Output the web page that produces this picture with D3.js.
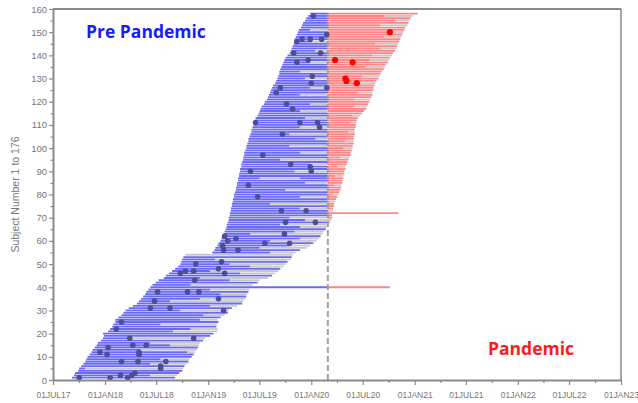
<!DOCTYPE html>
<html><head><meta charset="utf-8">
<script src="https://cdn.jsdelivr.net/npm/d3@7"></script>
<style>body{margin:0;background:#fff}</style>
</head><body><svg id="c" width="638" height="403"></svg>
<script>
// Subject n = index+1 ; dates as decimal years
const startYr=[
2017.68,2017.70,2017.71,2017.74,2017.75,2017.77,2017.79,2017.81,2017.82,2017.83,
2017.85,2017.87,2017.88,2017.90,2017.92,2017.93,2017.96,2017.98,2017.99,2017.98,
2018.03,2018.05,2018.07,2018.08,2018.10,2018.10,2018.13,2018.16,2018.18,2018.20,
2018.23,2018.27,2018.31,2018.33,2018.35,2018.37,2018.39,2018.40,2018.42,2018.44,
2018.46,2018.49,2018.52,2018.57,2018.59,2018.62,2018.65,2018.68,2018.71,2018.73,
2018.74,2018.75,2018.76,2018.78,2019.04,2019.06,2019.07,2019.09,2019.10,2019.12,
2019.13,2019.14,2019.15,2019.16,2019.17,2019.18,2019.18,2019.19,2019.20,2019.20,
2019.21,2019.21,2019.22,2019.22,2019.23,2019.23,2019.24,2019.24,2019.25,2019.25,
2019.26,2019.27,2019.27,2019.28,2019.28,2019.29,2019.29,2019.30,2019.30,2019.31,
2019.31,2019.32,2019.32,2019.33,2019.34,2019.34,2019.35,2019.35,2019.36,2019.37,
2019.37,2019.38,2019.39,2019.39,2019.40,2019.41,2019.42,2019.42,2019.43,2019.44,
2019.45,2019.46,2019.46,2019.48,2019.49,2019.50,2019.51,2019.52,2019.54,2019.55,
2019.57,2019.58,2019.59,2019.60,2019.61,2019.62,2019.63,2019.65,2019.66,2019.67,
2019.68,2019.69,2019.69,2019.70,2019.71,2019.72,2019.73,2019.74,2019.75,2019.77,
2019.79,2019.80,2019.81,2019.82,2019.83,2019.84,2019.84,2019.85,2019.86,2019.87,
2019.88,2019.90,2019.91,2019.92,2019.94,2019.95,2019.97,2019.99];
const endYr=[
2018.68,2018.70,2018.72,2018.75,2018.76,2018.77,2018.79,2018.81,2018.82,2018.84,
2018.86,2018.87,2018.89,2018.90,2018.91,2018.92,2018.95,2018.97,2019.02,2019.05,
2019.09,2019.09,2019.08,2019.09,2019.10,2019.09,2019.12,2019.16,2019.19,2019.20,
2019.23,2019.28,2019.33,2019.34,2019.36,2019.37,2019.38,2019.39,2019.40,2020.76,
2019.43,2019.48,2019.50,2019.58,2019.62,2019.65,2019.68,2019.70,2019.73,2019.75,
2019.77,2019.80,2019.81,2019.82,2019.85,2019.89,2019.96,2019.99,2020.02,2020.05,
2020.07,2020.09,2020.11,2020.12,2020.14,2020.15,2020.17,2020.18,2020.19,2020.20,
2020.20,2020.84,2020.21,2020.21,2020.22,2020.22,2020.23,2020.24,2020.25,2020.26,
2020.27,2020.28,2020.29,2020.29,2020.30,2020.30,2020.31,2020.31,2020.32,2020.32,
2020.33,2020.33,2020.34,2020.35,2020.36,2020.37,2020.38,2020.38,2020.39,2020.40,
2020.40,2020.41,2020.41,2020.41,2020.41,2020.42,2020.42,2020.42,2020.43,2020.43,
2020.44,2020.44,2020.45,2020.47,2020.49,2020.51,2020.53,2020.54,2020.55,2020.56,
2020.57,2020.58,2020.59,2020.59,2020.60,2020.60,2020.61,2020.62,2020.63,2020.65,
2020.66,2020.67,2020.68,2020.70,2020.71,2020.72,2020.74,2020.75,2020.76,2020.78,
2020.79,2020.81,2020.83,2020.83,2020.84,2020.85,2020.86,2020.87,2020.88,2020.89,
2020.90,2020.91,2020.93,2020.94,2020.95,2020.96,2020.98,2021.03];
// grey (off-treatment) interval; 0 = none / to end of line
const grayFrom=[
0,2018.44,0,0,2017.81,0,2018.44,0,2018.54,0,
0,2018.80,2018.34,0,2018.63,2018.44,0,2018.25,0,0,
2018.66,2018.83,0,2018.54,0,2018.92,0,2018.95,0,2018.73,
0,2019.02,0,2018.63,2018.92,0,2019.12,0,2019.02,0,
2018.83,0,2019.21,2018.92,0,2019.31,2019.02,0,2019.41,2019.21,
0,2019.07,0,2018.78,2019.60,0,2019.50,2019.79,0,2019.60,
2019.89,0,2019.41,2019.84,0,2019.89,2019.70,0,2019.94,2019.79,
0,0,2020.17,2019.89,0,2019.60,2020.18,0,2019.89,2020.20,
0,2019.75,0,2020.22,2019.94,0,2019.50,2020.23,0,2019.84,
0,2020.26,2019.99,0,2019.70,2020.28,0,2019.89,0,2020.31,
2019.79,0,2020.33,2020.04,0,2019.79,2020.36,0,2019.89,0,
2020.38,0,2019.94,2020.40,0,2019.89,0,2020.42,2019.99,0,
2020.42,0,2019.89,2020.45,0,2019.99,0,2020.47,0,2019.94,
2020.49,0,2019.89,0,2020.52,0,2019.99,2020.57,0,2020.59,
0,2020.04,2020.67,0,2020.62,2020.01,0,2020.71,0,2020.76,
2019.99,0,2020.67,0,2020.81,0,2020.71,0];
const grayTo=[
0,0,0,0,0,0,0,0,0,0, 0,0,0,0,0,0,0,0,0,0,
0,0,0,0,0,0,0,0,0,0, 0,0,0,0,0,0,0,0,0,0,
0,0,0,0,0,0,0,0,0,0, 0,0,0,0,0,0,0,0,0,0,
0,0,0,0,0,0,0,0,0,2020.16,
0,0,0,2020.16,0,2020.16,0,0,2020.16,0,
0,2020.16,0,0,2020.16,0,2019.89,0,0,2020.16,
0,0,2020.16,0,2020.16,0,0,2020.16,0,0,
2020.16,0,0,2020.16,0,2020.16,0,0,2020.16,0,
0,0,2020.16,0,0,2020.16,0,0,2020.16,0,
0,0,2020.16,0,0,2020.16,0,0,0,2020.16,
0,0,2020.16,0,0,0,2020.16,0,0,0,
0,2020.16,0,0,0,2020.16,0,0,0,0,
2020.16,0,0,0,0,0,0,0];
const dotSubject=[157,149,146,147,147,147,141,141,137,138,131,128,126,126,124,119,117,111,111,111,
109,106,97,93,92,90,90,84,79,73,73,68,68,63,62,61,60,59,59,58,56,56,51,50,48,47,47,46,46,43,
38,38,38,35,34,31,31,30,25,22,18,18,14,15,15,12,12,11,11,8,8,8,6,5,1,1,2,1,2,3];
const dotYr=[2020.02,2020.15,2019.86,2019.91,2019.99,2020.10,2019.83,2020.09,2019.86,2019.97,
2020.01,2020.00,2020.15,2019.70,2019.66,2019.76,2019.82,2019.46,2019.89,2020.06,
2020.08,2019.72,2019.53,2019.80,2019.99,2019.41,2020.00,2019.39,2019.48,2019.71,
2019.95,2019.75,2020.04,2019.74,2019.16,2019.27,2019.19,2019.55,2019.79,2019.14,
2019.15,2019.29,2019.13,2018.88,2019.10,2018.78,2018.86,2018.73,2019.16,2018.87,
2018.51,2018.80,2018.91,2019.10,2018.48,2018.63,2018.44,2019.15,2018.16,2018.11,
2018.24,2018.86,2018.03,2018.27,2018.40,2017.95,2018.33,2018.02,2018.33,2018.16,
2018.32,2018.59,2018.54,2018.54,2017.75,2018.05,2018.15,2018.22,2018.26,2018.29];
const redDotSubject=[150,138,137,130,129,128];
const redDotYr=[2020.76,2020.23,2020.40,2020.33,2020.34,2020.44];
const pandemicYr=2020.16;
const xTickDates=["2017-07-01","2018-01-01","2018-07-01","2019-01-01","2019-07-01","2020-01-01","2020-07-01","2021-01-01","2021-07-01","2022-01-01","2022-07-01","2023-01-01"];
const xTickLabels=["01JUL17","01JAN18","01JUL18","01JAN19","01JUL19","01JAN20","01JUL20","01JAN21","01JUL21","01JAN22","01JUL22","01JAN23"];
const yTicks=[0,10,20,30,40,50,60,70,80,90,100,110,120,130,140,150,160];

function yrToDate(v){const yr=Math.floor(v);const s=Date.UTC(yr,0,1),e=Date.UTC(yr+1,0,1);return new Date(s+(v-yr)*(e-s));}
const svg=d3.select("#c");
const L=53,R=621,T=9,B=380;
const x=d3.scaleUtc().domain([new Date(xTickDates[0]),new Date(xTickDates[xTickDates.length-1])]).range([L,R]);
const y=d3.scaleLinear().domain([0,160]).range([B,T]);
const BLUE="#6a6af2",RED="#ff8585",GRAY="#c8c8c8";
const P=yrToDate(pandemicYr);
const segs=[];
function colored(n,a,b){
  if(b<=a) return;
  if(b<=P) segs.push({n,a,b,c:BLUE});
  else if(a>=P) segs.push({n,a,b,c:RED});
  else {segs.push({n,a,b:P,c:BLUE});segs.push({n,a:P,b,c:RED});}
}
startYr.forEach((s,i)=>{
  const n=i+1,a=yrToDate(s),e=yrToDate(endYr[i]);
  if(grayFrom[i]){
    const g1=yrToDate(grayFrom[i]);
    const g2=grayTo[i]?yrToDate(grayTo[i]):e;
    colored(n,a,g1);
    segs.push({n,a:g1,b:g2,c:GRAY});
    if(grayTo[i]) colored(n,g2,e);
  } else colored(n,a,e);
});
svg.append("g").selectAll("line").data(segs).join("line")
  .attr("x1",d=>x(d.a)).attr("x2",d=>x(d.b))
  .attr("y1",d=>y(d.n)).attr("y2",d=>y(d.n))
  .attr("stroke",d=>d.c).attr("stroke-width",1.85);

// pandemic reference line
svg.append("line").attr("x1",x(P)).attr("x2",x(P)).attr("y1",y(0)).attr("y2",y(158.5))
  .attr("stroke","#a0a0a0").attr("stroke-width",2).attr("stroke-dasharray","6,3");

// dots
svg.append("g").selectAll("circle").data(dotSubject.map((s,i)=>({s,t:dotYr[i]}))).join("circle")
  .attr("cx",d=>x(yrToDate(d.t))).attr("cy",d=>y(d.s)).attr("r",2.8).attr("fill","#4e4e96");
svg.append("g").selectAll("circle").data(redDotSubject.map((s,i)=>({s,t:redDotYr[i]}))).join("circle")
  .attr("cx",d=>x(yrToDate(d.t))).attr("cy",d=>y(d.s)).attr("r",3.1).attr("fill","#ff0000");

// axes
const AX="#8a8a8a",TX="#777";
const xMajor=xTickDates.map(d=>new Date(d));
const xMinor=[];
for(let i=0;i<xMajor.length-1;i++){xMinor.push(new Date((+xMajor[i]+ +xMajor[i+1])/2));}
const gx=svg.append("g").attr("transform",`translate(0,${B})`)
  .call(d3.axisBottom(x).tickValues(xMajor).tickFormat((d,i)=>xTickLabels[i]).tickSize(5).tickSizeOuter(0));
svg.append("g").attr("transform",`translate(0,${B})`)
  .call(d3.axisBottom(x).tickValues(xMinor).tickFormat("").tickSize(3).tickSizeOuter(0))
  .select(".domain").remove();
const yMinor=d3.range(5,160,10);
const gy=svg.append("g").attr("transform",`translate(${L},0)`)
  .call(d3.axisLeft(y).tickValues(yTicks).tickSize(4).tickSizeOuter(0));
svg.append("g").attr("transform",`translate(${L},0)`)
  .call(d3.axisLeft(y).tickValues(yMinor).tickFormat("").tickSize(2.5).tickSizeOuter(0))
  .select(".domain").remove();
svg.selectAll(".domain").attr("stroke",AX).attr("stroke-width",2);
svg.selectAll(".tick line").attr("stroke",AX).attr("stroke-width",1.2);
gx.selectAll("text").attr("fill",TX).style("font-family","Liberation Sans, Arial, sans-serif").style("font-size","8.5px").attr("dy","1.2em");
gy.selectAll("text").attr("fill",TX).style("font-family","Liberation Sans, Arial, sans-serif").style("font-size","9.5px").attr("x",-6);
// frame top/right
svg.append("line").attr("x1",L).attr("x2",R).attr("y1",T).attr("y2",T).attr("stroke",AX).attr("stroke-width",2);
svg.append("line").attr("x1",R).attr("x2",R).attr("y1",T).attr("y2",B).attr("stroke",AX).attr("stroke-width",1.5);

svg.append("text").attr("transform",`translate(19,${(T+B)/2}) rotate(-90)`).attr("text-anchor","middle")
  .attr("fill",TX).style("font-family","Liberation Sans, Arial, sans-serif").style("font-size","10.5px")
  .text("Subject Number 1 to 176");
svg.append("text").attr("x",86).attr("y",38).attr("fill","#1a1aff")
  .style("font-family","Open Sans, sans-serif").style("font-weight","bold").style("font-size","17.5px").text("Pre Pandemic");
svg.append("text").attr("x",488).attr("y",355).attr("fill","#ff1a1a")
  .style("font-family","Open Sans, sans-serif").style("font-weight","bold").style("font-size","17.5px").text("Pandemic");
</script></body></html>
